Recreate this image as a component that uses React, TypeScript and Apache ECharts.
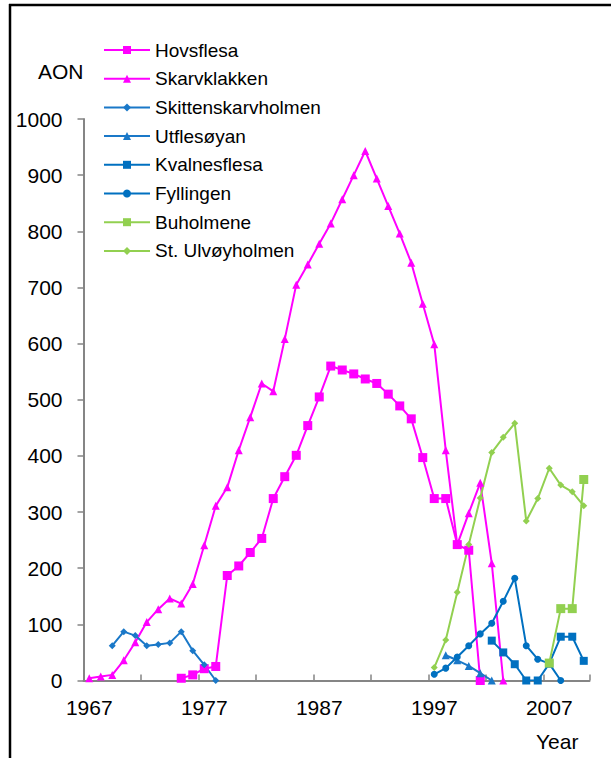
import React, { useEffect, useRef } from "react";
import * as echarts from "echarts";

const years = [
  "1967", "1968", "1969", "1970", "1971", "1972", "1973", "1974", "1975", "1976",
  "1977", "1978", "1979", "1980", "1981", "1982", "1983", "1984", "1985", "1986",
  "1987", "1988", "1989", "1990", "1991", "1992", "1993", "1994", "1995", "1996",
  "1997", "1998", "1999", "2000", "2001", "2002", "2003", "2004", "2005", "2006",
  "2007", "2008", "2009", "2010",
];

const yTicks = [0, 100, 200, 300, 400, 500, 600, 700, 800, 900, 1000];

const hovsflesaStart = 1975;
const hovsflesaValues = [4, 10, 21, 25, 187, 204, 228, 253, 324, 363, 401, 454, 505, 560, 553, 546, 537, 529, 510, 489, 466, 397, 324, 324, 242, 232, 0];

const skarvklakkenStart = 1967;
const skarvklakkenValues = [4, 7, 10, 36, 68, 104, 127, 146, 137, 172, 241, 311, 344, 410, 469, 529, 515, 608, 705, 741, 778, 814, 857, 900, 943, 894, 845, 796, 744, 671, 599, 410, 242, 298, 352, 209, 0];

const skittenStart = 1969;
const skittenValues = [62, 87, 80, 62, 64, 67, 87, 53, 28, 0];

const utflesoyanStart = 1998;
const utflesoyanValues = [45, 36, 26, 13, 0];

const kvalnesflesaStart = 2002;
const kvalnesflesaValues = [71, 50, 29, 0, 0, 30, 78, 78, 35];

const fyllingenStart = 1997;
const fyllingenValues = [11, 22, 42, 62, 83, 102, 141, 182, 62, 38, 30, 0];

const buholmeneStart = 2007;
const buholmeneValues = [31, 128, 128, 358];

const ulvoyStart = 1997;
const ulvoyValues = [23, 72, 157, 242, 325, 406, 433, 458, 284, 324, 378, 348, 336, 311];

const FONT = "'Liberation Sans', Arial, sans-serif";
const MAGENTA = "#FF00FF";
const BLUE = "#0070C0";
const BLUE2 = "#1A78C8";
const GREEN = "#92D050";

function align(start: number, values: number[]) {
  return years.map((y) => {
    const i = Number(y) - start;
    return i >= 0 && i < values.length ? values[i] : null;
  });
}

function lineSeries(name: string, start: number, values: number[], color: string, symbol: string, size: number) {
  return {
    name,
    type: "line",
    data: align(start, values),
    symbol,
    symbolSize: size,
    showSymbol: true,
    showAllSymbol: true,
    connectNulls: false,
    lineStyle: { color, width: 2 },
    itemStyle: { color, borderWidth: 0 },
    emphasis: { disabled: true },
  };
}

export default function App() {
  const ref = useRef<HTMLDivElement>(null);
  useEffect(() => {
    if (!ref.current) return;
    const chart = echarts.init(ref.current, undefined, { renderer: "svg" });
    chart.setOption({
      animation: false,
      backgroundColor: "#ffffff",
      textStyle: { fontFamily: FONT },
      grid: { left: 83.5, top: 119, width: 506, height: 561.5, containLabel: false },
      legend: {
        orient: "vertical",
        left: 103,
        top: 40.5,
        padding: 0,
        itemWidth: 46,
        itemHeight: 10,
        itemGap: 9.7,
        selectedMode: false,
        textStyle: { fontFamily: FONT, fontSize: 19, color: "#000", lineHeight: 19 },
        data: ["Hovsflesa", "Skarvklakken", "Skittenskarvholmen", "Utflesøyan", "Kvalnesflesa", "Fyllingen", "Buholmene", "St. Ulvøyholmen"],
      },
      xAxis: {
        type: "category",
        data: years,
        boundaryGap: true,
        axisLine: { show: true, lineStyle: { color: "#858585", width: 2 } },
        axisTick: { show: true, inside: true, length: 6, interval: 4, lineStyle: { color: "#858585", width: 1.5 } },
        axisLabel: { interval: 9, margin: 16, fontSize: 21, color: "#000", fontFamily: FONT },
        splitLine: { show: false },
      },
      yAxis: {
        type: "value",
        min: yTicks[0],
        max: yTicks[yTicks.length - 1],
        interval: 100,
        axisLine: { show: true, lineStyle: { color: "#858585", width: 2 } },
        axisTick: { show: true, inside: false, length: 6, lineStyle: { color: "#858585", width: 1.5 } },
        axisLabel: { margin: 21, fontSize: 21, color: "#000", fontFamily: FONT, formatter: (v: number) => String(v) },
        splitLine: { show: false },
      },
      graphic: [
        { type: "line", shape: { x1: 10, y1: 4, x2: 10, y2: 758 }, style: { stroke: "#000", lineWidth: 2.5 } },
        { type: "line", shape: { x1: 9, y1: 5, x2: 611, y2: 5 }, style: { stroke: "#000", lineWidth: 2.5 } },
        { type: "text", left: 38, top: 61, style: { text: "AON", font: `21px ${FONT}`, fill: "#000" } },
        { type: "text", left: 536, top: 731, style: { text: "Year", font: `21px ${FONT}`, fill: "#000" } },
      ],
      series: [
        lineSeries("Hovsflesa", hovsflesaStart, hovsflesaValues, MAGENTA, "rect", 9),
        lineSeries("Skarvklakken", skarvklakkenStart, skarvklakkenValues, MAGENTA, "triangle", 8),
        lineSeries("Skittenskarvholmen", skittenStart, skittenValues, BLUE2, "diamond", 7),
        lineSeries("Utflesøyan", utflesoyanStart, utflesoyanValues, BLUE2, "triangle", 8),
        lineSeries("Kvalnesflesa", kvalnesflesaStart, kvalnesflesaValues, BLUE, "rect", 8),
        lineSeries("Fyllingen", fyllingenStart, fyllingenValues, BLUE, "circle", 7),
        lineSeries("Buholmene", buholmeneStart, buholmeneValues, GREEN, "rect", 9),
        lineSeries("St. Ulvøyholmen", ulvoyStart, ulvoyValues, GREEN, "diamond", 7),
      ],
    });
    return () => chart.dispose();
  }, []);
  return (
    <div
      ref={ref}
      style={{ position: "absolute", left: 0, top: 0, width: 611, height: 758, background: "#fff" }}
    />
  );
}
